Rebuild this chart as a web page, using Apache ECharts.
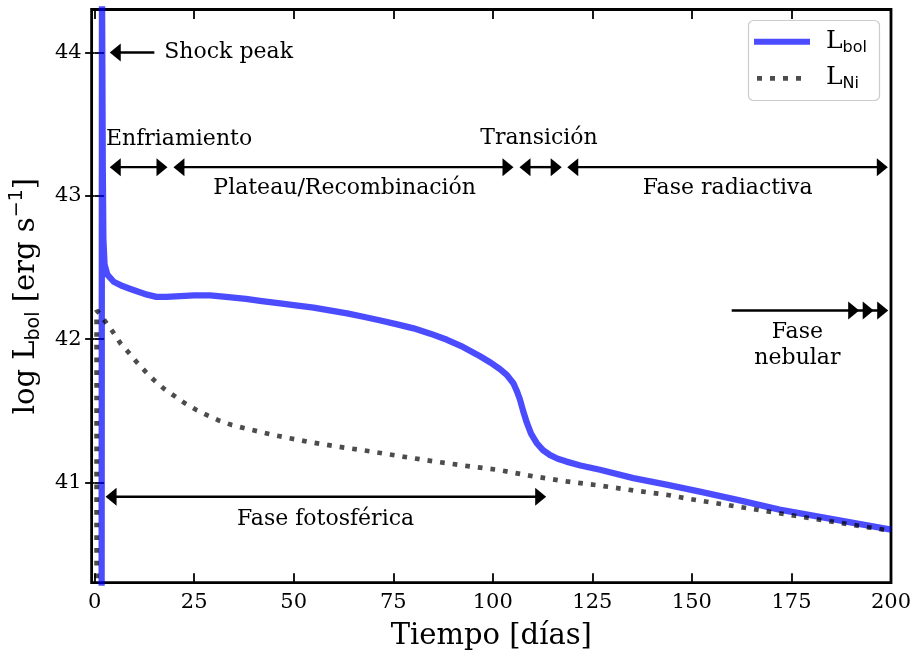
<!DOCTYPE html>
<html>
<head>
<meta charset="utf-8">
<script src="https://cdn.jsdelivr.net/npm/echarts@6/dist/echarts.min.js"></script>
<style>
  html, body { margin: 0; padding: 0; background: #ffffff; }
  #chart { width: 915px; height: 657px; }
</style>
</head>
<body>
<div id="chart"></div>
<script>
// Bolometric light curve of the model: time since explosion [days] and log L_bol [erg/s]
const lbolDays = [1.75, 1.85, 2.05, 2.2, 2.5, 3.2, 4.8, 7, 9, 11, 13.2, 15.5, 18, 21.5, 25, 29, 33, 38, 42, 46.6,
  50, 55, 59, 63.4, 67.5, 71.8, 76, 80.1, 84.3, 88.5, 92.5, 96.8, 99.5, 101.8, 103.5, 105.2, 106, 106.8, 107.6,
  108.5, 109.6, 111, 112.6, 114.4, 116.3, 118.5, 122, 126.9, 135.3, 143.6, 152, 162, 172, 186, 200];
const lbolLog = [39.8, 44.5, 43.2, 42.7, 42.52, 42.45, 42.40, 42.37, 42.35, 42.33, 42.31, 42.295, 42.295, 42.30,
  42.305, 42.305, 42.295, 42.28, 42.265, 42.25, 42.237, 42.22, 42.20, 42.18, 42.156, 42.13, 42.103, 42.075,
  42.038, 41.995, 41.945, 41.88, 41.835, 41.79, 41.75, 41.69, 41.64, 41.58, 41.50, 41.42, 41.34, 41.275,
  41.225, 41.19, 41.165, 41.145, 41.118, 41.088, 41.03, 40.984, 40.935, 40.875, 40.81, 40.74, 40.67];

// Radioactive 56Ni heating luminosity
const niDays = [0.5, 0.5, 1.2, 2.76, 4.6, 6.5, 8.6, 10.7, 12.9, 15.05, 17.6, 20.2, 22.8, 25.6, 28.5, 31.4, 34.5,
  37.5, 45, 53.3, 61, 69.4, 77.4, 85.4, 93.3, 101.2, 110.2, 118.5, 126.9, 135.3, 143.6, 149, 165, 180.8, 200];
const niLog = [39.8, 42.2, 42.18, 42.12, 42.05, 41.97, 41.905, 41.835, 41.77, 41.71, 41.65, 41.60, 41.55, 41.505,
  41.466, 41.43, 41.40, 41.379, 41.33, 41.285, 41.25, 41.216, 41.18, 41.146, 41.115, 41.088, 41.042, 41.007,
  40.978, 40.944, 40.914, 40.886, 40.815, 40.745, 40.662];

const xTicks = [0, 25, 50, 75, 100, 125, 150, 175, 200];
const yTicks = [41, 42, 43, 44];

// Phase arrows (days / log L): tail, tip, level, heads at tail, heads at tip
const arrowFrom = [15.0, 3.8, 19.8, 106.7, 118.7, 160.0, 2.75];
const arrowTo = [3.8, 18.3, 105.2, 117.3, 199.2, 199.3, 113.4];
const arrowLevel = [44.0, 43.2, 43.2, 43.2, 43.2, 42.2, 40.9];
const arrowTailHeads = [0, 1, 1, 1, 1, 0, 1];
const arrowTipHeads = [1, 1, 1, 1, 1, 3, 1];

// Phase names and where they sit
const phaseLabels = ['Shock peak', 'Enfriamiento', 'Plateau/Recombinación', 'Transición',
  'Fase radiactiva', 'Fase\nnebular', 'Fase fotosférica'];
const phaseLabelX = [17.5, 21.2, 62.8, 111.6, 159.0, 176.5, 58.0];
const phaseLabelY = [44.0, 43.395, 43.05, 43.40, 43.05, 41.96, 40.74];
const phaseLabelAlign = ['left', 'center', 'center', 'center', 'center', 'center', 'center'];

const SERIF = 'DejaVu Serif';
const SANS = 'DejaVu Sans';
const BLUE = 'rgba(0,0,255,0.7)';
const GREY = 'rgba(0,0,0,0.7)';

const chart = echarts.init(document.getElementById('chart'), null, { renderer: 'canvas' });

const HEAD_LEN = 11;
const HEAD_HALF = 9;
const HEAD_STEP = 14.5;

function renderArrow(params, api) {
  const from = api.value(0), to = api.value(1), level = api.value(2);
  const tailHeads = api.value(3), tipHeads = api.value(4);
  const p0 = api.coord([from, level]);
  const p1 = api.coord([to, level]);
  const y = p0[1];
  const dir = p1[0] >= p0[0] ? 1 : -1;
  const head = (tipX, d) => ({
    type: 'polygon',
    shape: { points: [[tipX, y], [tipX - d * HEAD_LEN, y - HEAD_HALF], [tipX - d * HEAD_LEN, y + HEAD_HALF]] },
    style: { fill: '#000' }
  });
  let xa = p0[0], xb = p1[0];
  if (tailHeads) xa += dir * HEAD_LEN * 0.6;
  if (tipHeads) xb -= dir * HEAD_LEN * 0.6;
  const children = [{
    type: 'line',
    shape: { x1: xa, y1: y, x2: xb, y2: y },
    style: { stroke: '#000', lineWidth: 2.4 }
  }];
  if (tailHeads) children.push(head(p0[0], -dir));
  for (let k = 0; k < tipHeads; k++) children.push(head(p1[0] - dir * k * HEAD_STEP, dir));
  return { type: 'group', children };
}

function renderPhaseLabel(params, api) {
  const p = api.coord([api.value(0), api.value(1)]);
  const i = params.dataIndex;
  return {
    type: 'text',
    x: p[0],
    y: p[1],
    style: {
      text: phaseLabels[i],
      fontFamily: SERIF,
      fontSize: 22,
      lineHeight: 26,
      fill: '#000',
      align: phaseLabelAlign[i],
      verticalAlign: 'middle'
    }
  };
}

const tickStyle = { color: '#000', width: 1.8 };

const option = {
  animation: false,
  backgroundColor: '#ffffff',
  grid: {
    left: 91, right: 24, top: 9.5, bottom: 74.3,
    show: true, borderColor: '#000', borderWidth: 2.8, backgroundColor: 'transparent'
  },
  xAxis: [
    {
      type: 'value', position: 'bottom', min: -0.75, max: 200,
      splitLine: { show: false }, axisLine: { show: false },
      axisTick: { inside: true, length: 9.5, lineStyle: tickStyle, customValues: xTicks },
      axisLabel: { customValues: xTicks, fontFamily: SERIF, fontSize: 21, color: '#000', margin: 9 },
      name: 'Tiempo [días]', nameLocation: 'middle', nameGap: 39,
      nameTextStyle: { fontFamily: SERIF, fontSize: 29, color: '#000' }
    },
    {
      type: 'value', position: 'top', min: -0.75, max: 200,
      splitLine: { show: false }, axisLine: { show: false },
      axisTick: { inside: true, length: 9.5, lineStyle: tickStyle, customValues: xTicks },
      axisLabel: { show: false }
    }
  ],
  yAxis: [
    {
      type: 'value', position: 'left', min: 40.3, max: 44.3,
      splitLine: { show: false }, axisLine: { show: false },
      axisTick: { inside: true, length: 9.5, lineStyle: tickStyle, customValues: yTicks },
      axisLabel: { customValues: yTicks, fontFamily: SERIF, fontSize: 21, color: '#000', margin: 10 },
      name: '{a|log L}{s|bol}{a| [erg s}{p|−1}{a|]}',
      nameLocation: 'middle', nameRotate: 90, nameGap: 46,
      nameTextStyle: {
        color: '#000',
        rich: {
          a: { fontFamily: SERIF, fontSize: 29, lineHeight: 36, color: '#000' },
          s: { fontFamily: SANS, fontSize: 19, lineHeight: 22, verticalAlign: 'bottom', color: '#000' },
          p: { fontFamily: SANS, fontSize: 19, lineHeight: 22, verticalAlign: 'top', color: '#000' }
        }
      }
    },
    {
      type: 'value', position: 'right', min: 40.3, max: 44.3,
      splitLine: { show: false }, axisLine: { show: false },
      axisTick: { inside: true, length: 9.5, lineStyle: tickStyle, customValues: yTicks },
      axisLabel: { show: false }
    }
  ],
  series: [
    {
      name: 'Lbol', type: 'line', xAxisIndex: 0, yAxisIndex: 0,
      data: lbolDays.map((d, i) => [d, lbolLog[i]]),
      symbol: 'none', smooth: false, clip: true, z: 2,
      lineStyle: { color: BLUE, width: 6.3, join: 'round' }
    },
    {
      name: 'LNi', type: 'line', xAxisIndex: 0, yAxisIndex: 0,
      data: niDays.map((d, i) => [d, niLog[i]]),
      symbol: 'none', smooth: false, clip: true, z: 3,
      lineStyle: { color: GREY, width: 4.7, type: [4.7, 8], cap: 'butt' }
    },
    {
      type: 'custom', xAxisIndex: 0, yAxisIndex: 0, z: 4, clip: false,
      data: arrowFrom.map((f, i) => [f, arrowTo[i], arrowLevel[i], arrowTailHeads[i], arrowTipHeads[i]]),
      encode: { x: [0, 1], y: 2 },
      renderItem: renderArrow
    },
    {
      type: 'custom', xAxisIndex: 0, yAxisIndex: 0, z: 4, clip: false,
      data: phaseLabelX.map((x, i) => [x, phaseLabelY[i]]),
      encode: { x: 0, y: 1 },
      renderItem: renderPhaseLabel
    }
  ],
  graphic: [
    {
      type: 'rect', z: 100,
      shape: { x: 748.5, y: 20.5, width: 131, height: 80, r: 5 },
      style: { fill: 'rgba(255,255,255,0.8)', stroke: '#cccccc', lineWidth: 1.2 }
    },
    {
      type: 'line', z: 101,
      shape: { x1: 754, y1: 41.7, x2: 810, y2: 41.7 },
      style: { stroke: BLUE, lineWidth: 6 }
    },
    {
      type: 'line', z: 101,
      shape: { x1: 757, y1: 78.3, x2: 802, y2: 78.3 },
      style: { stroke: GREY, lineWidth: 4.7, lineDash: [5, 8] }
    },
    {
      type: 'text', z: 101, x: 826, y: 41,
      style: {
        text: '{l|L}{s|bol}', verticalAlign: 'middle',
        rich: {
          l: { fontFamily: SERIF, fontSize: 25, lineHeight: 30, fill: '#000' },
          s: { fontFamily: SANS, fontSize: 16, lineHeight: 19, verticalAlign: 'bottom', fill: '#000' }
        }
      }
    },
    {
      type: 'text', z: 101, x: 826, y: 77,
      style: {
        text: '{l|L}{s|Ni}', verticalAlign: 'middle',
        rich: {
          l: { fontFamily: SERIF, fontSize: 25, lineHeight: 30, fill: '#000' },
          s: { fontFamily: SANS, fontSize: 16, lineHeight: 19, verticalAlign: 'bottom', fill: '#000' }
        }
      }
    }
  ]
};

chart.setOption(option);
</script>
</body>
</html>
